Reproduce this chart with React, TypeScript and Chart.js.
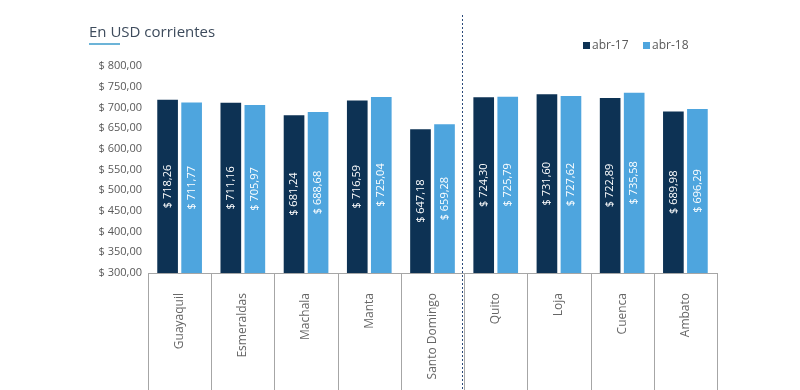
import React, { useEffect, useRef } from "react";
import { Chart, registerables } from "chart.js";

Chart.register(...registerables);

const categories = ["Guayaquil", "Esmeraldas", "Machala", "Manta", "Santo Domingo", "Quito", "Loja", "Cuenca", "Ambato"];
const abr17 = [718.26, 711.16, 681.24, 716.59, 647.18, 724.3, 731.6, 722.89, 689.98];
const abr18 = [711.77, 705.97, 688.68, 725.04, 659.28, 725.79, 727.62, 735.58, 696.29];
const seriesNames = ["abr-17", "abr-18"];
const titleText = "En USD corrientes";
const dividerAfterIndex = 4;

const DARK = "#0d3254";
const LIGHT = "#4ea5de";
const FONT = "'Open Sans', 'Noto Sans', sans-serif";

const fmt = (v: number) => "$ " + v.toFixed(2).replace(".", ",");

const decorPlugin = {
  id: "decor",
  afterDatasetsDraw(chart: any) {
    const ctx = chart.ctx;
    const area = chart.chartArea;
    chart.data.datasets.forEach((ds: any, di: number) => {
      const meta = chart.getDatasetMeta(di);
      meta.data.forEach((bar: any, i: number) => {
        const bottom = Math.min(bar.base, area.bottom);
        const cy = (bar.y + bottom) / 2;
        ctx.save();
        ctx.translate(bar.x, cy);
        ctx.rotate(-Math.PI / 2);
        ctx.fillStyle = "#ffffff";
        ctx.font = `11px ${FONT}`;
        ctx.textAlign = "center";
        ctx.textBaseline = "middle";
        ctx.fillText(fmt(ds.data[i]), 0, 0);
        ctx.restore();
      });
    });
  },
  afterDraw(chart: any) {
    const ctx = chart.ctx;
    const x = chart.scales.x;
    const area = chart.chartArea;
    const n = categories.length;
    const step = (x.getPixelForValue(1) - x.getPixelForValue(0));
    ctx.save();
    ctx.strokeStyle = "#a6a6a6";
    ctx.lineWidth = 1;
    for (let i = 0; i <= n; i++) {
      const px = Math.round(x.getPixelForValue(i) - step / 2) + 0.5;
      ctx.beginPath();
      ctx.moveTo(px, area.bottom);
      ctx.lineTo(px, chart.height);
      ctx.stroke();
    }
    const dx = Math.round(x.getPixelForValue(dividerAfterIndex) + step / 2) - 1.5;
    ctx.strokeStyle = "#2b4a7a";
    ctx.setLineDash([2, 2]);
    ctx.beginPath();
    ctx.moveTo(dx, 15);
    ctx.lineTo(dx, chart.height);
    ctx.stroke();
    ctx.setLineDash([]);
    ctx.fillStyle = "#3d4b5c";
    ctx.font = `15px ${FONT}`;
    ctx.textAlign = "left";
    ctx.textBaseline = "middle";
    ctx.fillText(titleText, 89, 33);
    ctx.strokeStyle = "#6cb4d8";
    ctx.lineWidth = 2;
    ctx.beginPath();
    ctx.moveTo(89, 44);
    ctx.lineTo(120, 44);
    ctx.stroke();
    ctx.font = `12px ${FONT}`;
    const colors = [DARK, LIGHT];
    const lx = [583, 643];
    seriesNames.forEach((s, i) => {
      ctx.fillStyle = colors[i];
      ctx.fillRect(lx[i], 42, 7, 7);
      ctx.fillStyle = "#595959";
      ctx.fillText(s, lx[i] + 9, 46);
    });
    ctx.restore();
  },
};

export default function App() {
  const ref = useRef<HTMLCanvasElement>(null);
  useEffect(() => {
    if (!ref.current) return;
    const chart = new Chart(ref.current, {
      type: "bar",
      data: {
        labels: categories,
        datasets: [
          { label: seriesNames[0], data: abr17, backgroundColor: DARK, categoryPercentage: 0.76, barPercentage: 0.86 },
          { label: seriesNames[1], data: abr18, backgroundColor: LIGHT, categoryPercentage: 0.76, barPercentage: 0.86 },
        ],
      },
      options: {
        animation: false,
        responsive: false,
        maintainAspectRatio: false,
        layout: { padding: { top: 66, left: 88, right: 83, bottom: 0 } },
        plugins: { legend: { display: false }, title: { display: false }, tooltip: { enabled: false } },
        scales: {
          x: {
            grid: { display: false, drawTicks: false },
            border: { display: true, color: "#a6a6a6" },
            ticks: {
              maxRotation: 90,
              minRotation: 90,
              padding: 20,
              color: "#666666",
              font: { family: FONT, size: 12 },
            },
            afterFit: (s: any) => { s.height = 117; },
          },
          y: {
            min: 300,
            max: 800,
            grid: { display: false, drawTicks: false },
            border: { display: false },
            ticks: {
              stepSize: 50,
              padding: 6,
              color: "#595959",
              font: { family: FONT, size: 11 },
              callback: (v: any) => fmt(Number(v)),
            },
            afterFit: (s: any) => { s.width = 60; },
          },
        },
      },
      plugins: [decorPlugin],
    });
    return () => chart.destroy();
  }, []);
  return (
    <div style={{ position: "fixed", left: 0, top: 0, width: 800, height: 390, background: "#fff" }}>
      <canvas ref={ref} width={800} height={390} style={{ width: 800, height: 390 }} />
    </div>
  );
}
